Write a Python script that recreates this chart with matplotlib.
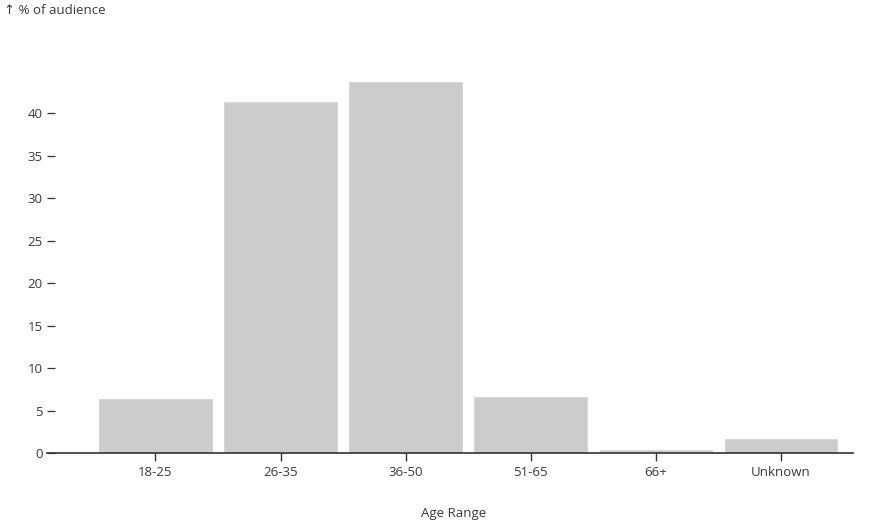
import matplotlib.pyplot as plt

# audience share by age range
age_ranges = ['18-25', '26-35', '36-50', '51-65', '66+', 'Unknown']
audience_pct = [6.35, 41.3, 43.65, 6.6, 0.4, 1.65]
y_ticks = [0, 5, 10, 15, 20, 25, 30, 35, 40]

plt.rcParams['font.family'] = ['Open Sans', 'DejaVu Sans']
text_color = '#3a3a3a'

fig = plt.figure(figsize=(8.8, 5.22), dpi=100)
W, H = 880, 522
left, right, bottom_px = 47, 852.7, 453.3
px_per_unit = 8.5
ytop = 45
top_px = bottom_px - ytop * px_per_unit
ax = fig.add_axes([left / W, 1 - bottom_px / H, (right - left) / W, (bottom_px - top_px) / H])

x = list(range(len(age_ranges)))
ax.bar(x, audience_pct, width=0.9, color='#cccccc', edgecolor='#d6d6d6', linewidth=0.6)

ax.set_xlim(-0.867, 5.573)
ax.set_ylim(0, ytop)
ax.set_xticks(x)
ax.set_xticklabels(age_ranges)
ax.set_yticks(y_ticks)

for s in ['top', 'right', 'left']:
    ax.spines[s].set_visible(False)
ax.spines['bottom'].set_color('#333333')
ax.spines['bottom'].set_linewidth(1.2)

ax.tick_params(axis='y', direction='in', length=5.8, width=0.9, color='#333333',
               labelsize=9.5, labelcolor=text_color, pad=3)
ax.tick_params(axis='x', direction='out', length=5.5, width=1.0, color='#333333',
               labelsize=9.5, labelcolor=text_color, pad=3.5)

fig.text(454 / W, 1 - 514 / H, 'Age Range', ha='center', va='center',
         fontsize=9.5, color=text_color)
fig.text(4 / W, 1 - 10 / H, '↑ % of audience', ha='left', va='center',
         fontsize=9.5, color=text_color)

fig.savefig('out.png', dpi=100)
